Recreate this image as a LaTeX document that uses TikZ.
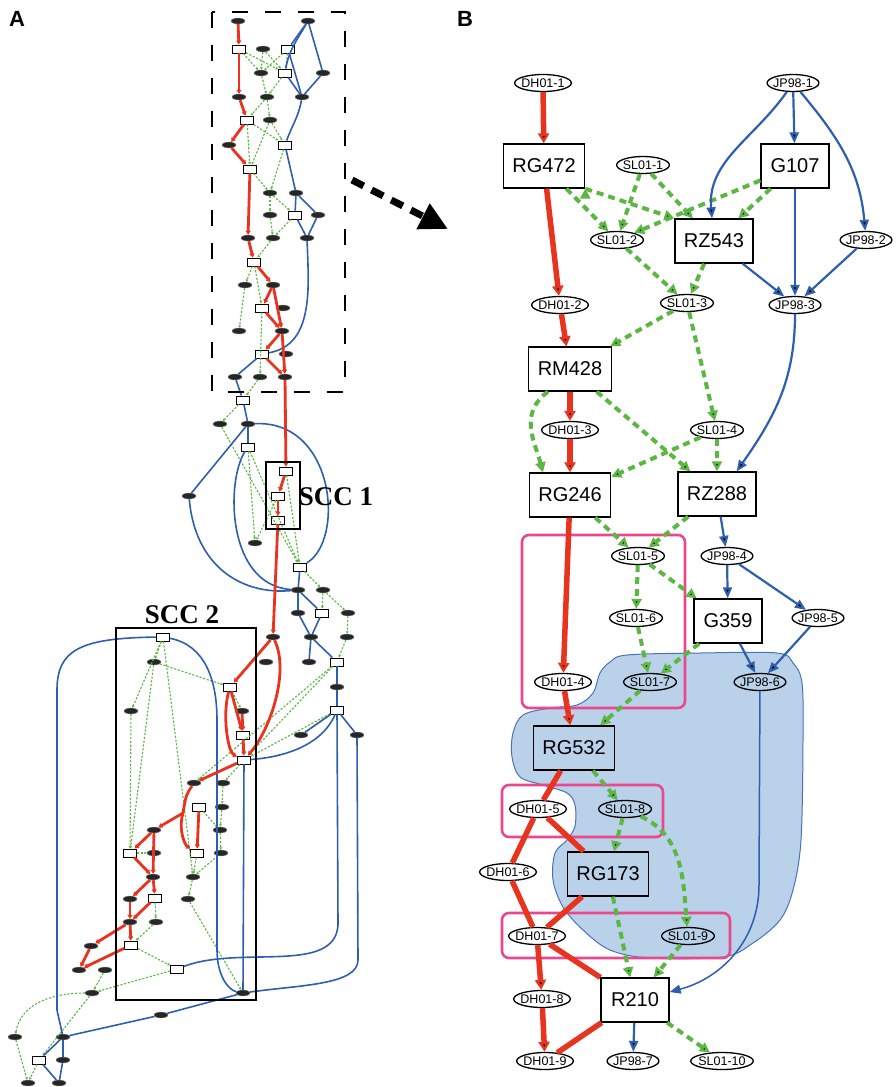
\documentclass[tikz,border=0pt]{standalone}
\usepackage{fontspec}
\setmainfont{Liberation Sans}
\newfontfamily\sccserif{Liberation Serif}
\usetikzlibrary{positioning,backgrounds,arrows.meta,shapes.geometric}

\definecolor{dhred}{HTML}{E8341F}
\definecolor{jpblue}{HTML}{2E5FAE}
\definecolor{slgreen}{HTML}{5BB642}
\definecolor{blobfill}{HTML}{BAD1EA}
\definecolor{blobline}{HTML}{4A72B8}
\definecolor{sccpink}{HTML}{E8488E}

\begin{document}
\begin{tikzpicture}[x=1pt,y=1pt,
    gene/.style={draw,line width=1.3pt,inner xsep=9pt,minimum width=68pt,minimum height=44pt,font=\fontsize{20}{20}\selectfont},
    snp/.style={ellipse,draw,line width=1.3pt,inner xsep=-1.5pt,inner ysep=0pt,minimum height=17pt,font=\fontsize{12.5}{12.5}\selectfont},
    dh/.style={draw=dhred,line width=5.5pt,-{Triangle[length=10pt,width=11pt]}},
    dhline/.style={draw=dhred,line width=5.5pt},
    jp/.style={draw=jpblue,line width=2.2pt,-{Triangle[length=11pt,width=9pt]}},
    sl/.style={draw=slgreen,line width=4pt,dash pattern=on 7pt off 5pt,-{Triangle[length=10pt,width=10pt]}},
    minisnp/.style={ellipse,fill=black!85,draw=black!45,minimum width=14pt,minimum height=6pt,inner sep=0pt},
    minigene/.style={draw,fill=white,line width=0.9pt,minimum width=13pt,minimum height=8pt,inner sep=0pt},
    mdh/.style={draw=dhred,line width=2.8pt,-{Triangle[length=4pt,width=5pt]}},
    mjp/.style={draw=jpblue,line width=1.6pt},
    msl/.style={draw=slgreen,line width=1.1pt,dash pattern=on 2.2pt off 1.6pt,-{Triangle[length=2.5pt,width=2.5pt]}},
    panel/.style={font=\fontsize{22}{22}\selectfont\bfseries},
    scclabel/.style={font=\sccserif\fontsize{27}{27}\selectfont\bfseries}]

    \useasboundingbox (0,0) rectangle (895,-1087);

    % ---------- panel A ----------
    \node[panel] (panelA) at (17,-19) {A};

    \foreach \n/\x/\y in {o1/238/21, o2/308/21, o3/263/49, o4/261/73, o5/323/73, o6/239/97, o7/267/97,
        o8/302/97, o9/270/120, o10/229/145, o11/270/193, o12/296/193, o13/270/215, o14/318/215,
        o15/248/238, o16/273/238, o17/307/238, o18/245/285, o19/273/285, o20/283/308, o21/239/331,
        o22/282/331, o23/286/354, o24/235/377, o25/260/377, o26/285/377, o27/220/424, o28/248/424,
        o29/189/496, o30/255/543, o31/298/590, o32/323/590, o33/298/613, o34/348/613, o35/273/637,
        o36/311/637, o37/347/637, o38/154/662, o39/266/662, o40/309/662, o41/337/687, o42/131/711,
        o43/242/711, o46/301/735, o47/357/735, o48/194/783, o49/223/783, o50/222/807, o51/154/830,
        o52/220/830, o53/154/853, o54/221/853, o55/153/877, o56/193/877, o57/130/899, o58/188/899,
        o59/130/922, o60/156/922, o61/91/946, o62/79/970, o63/105/970, o64/92/993, o65/243/993,
        o66/161/1015, o67/15/1037, o68/63/1037, o69/63/1060, o70/28/1083, o71/59/1083}
      \node[minisnp] (a\n) at (\x,-\y) {};

    \foreach \n/\x/\y in {b1/239/49, b2/288/49, b3/285/73, b4/247/120, b5/285/145, b6/250/169,
        b7/295/215, b8/254/262, b9/262/308, b10/262/354, b11/243/400, b12/248/447, b13/286/471,
        b14/278/496, b15/278/520, b16/300/567, b17/322/613, b18/163/637, b19/337/662, b20/230/687,
        b21/337/710, b23/243/735, b24/244/760, b25/199/807, b26/130/853, b27/197/853, b28/155/898,
        b29/131/945, b30/177/969, b31/39/1060}
      \node[minigene] (a\n) at (\x,-\y) {};

    \coordinate (ajunc) at (183,-813);
    \coordinate (arloop) at (57,-690);
    \coordinate (arloopend) at (57,-1010);
    \coordinate (amid1) at (217,-720);
    \coordinate (amid2) at (217,-950);
    \coordinate (aright1) at (338,-925);
    \coordinate (aright2) at (358,-960);

    \foreach \s/\t in {b1/o4, b1/b3, o3/o4, o3/b3, b2/o4, b2/b3, o4/o7, b3/o7, o7/b4, o7/o9, b4/b6,
        b4/b5, o9/b6, o9/b5, b6/o11, b5/o11, o11/o13, o11/b7, o13/o16, b7/o16, o16/b8, b8/o18,
        b8/b9, o18/o21, b9/o25, o25/b11, b11/o27, o27/b16, b12/o30, b12/b16, b13/b16, b14/o30,
        b16/o32, o32/b17, o32/o34, o34/o37, o37/b19, b18/o38, b18/o42, o38/b20, o42/b26, o38/b26,
        b18/o56, b19/b24, b19/o48, b21/b24, b21/o46, b24/o49, o49/o50, o50/o52, b25/o52, o52/o54,
        b27/o56, o54/o56, o56/o58, b26/o53, b28/o60, o60/b29, b29/b30, b30/o64, o63/o64,
        o64/b31, o67/o70, b31/o70, o58/o65, b20/o43}
      \draw[msl] (a\s) -- (a\t);
    \draw[msl] (ao64) to[out=180,in=80] (ao67);

    \foreach \s/\t in {o2/b2, o2/o5, b2/o8, b3/o8, o5/o8, b5/o12, o12/b7, o12/o14, b7/o17, o14/o17,
        b10/o24, o24/b11, b11/o28, o28/b12, o28/o29, b16/o31, o31/o33, o31/b17, o33/o36, b17/o36,
        o36/o40, o36/b19, b19/o41, o41/b21, b21/o46, b21/o47, b24/o65, o65/o66, o66/o68,
        o68/b31, o68/o69, b31/o71, o69/o71}
      \draw[mjp] (a\s) -- (a\t);
    \draw[mjp] (ao2) to[out=-120,in=80] (ab3);
    \draw[mjp] (ao8) to[out=-100,in=70] (ab5);
    \draw[mjp] (ao17) to[out=-88,in=10] (ab10);
    \draw[mjp] (ao28) .. controls (335,-420) and (345,-540) .. (ab16);
    \draw[mjp] (ab12) .. controls (226,-480) and (226,-585) .. (ao31);
    \draw[mjp] (ao29) .. controls (195,-565) and (240,-595) .. (ao31);
    \draw[mjp] (ab21) .. controls (322,-745) and (285,-757) .. (ab24);
    \draw[mjp] (ab18) .. controls (80,-638) and (57,-650) .. (arloop) -- (arloopend) -- (ao68);
    \draw[mjp] (ab18) .. controls (205,-645) and (217,-680) .. (amid1) -- (amid2)
        .. controls (217,-975) and (228,-990) .. (ao65);
    \draw[mjp] (ab21) -- (aright1) .. controls (335,-975) and (240,-945) .. (ab30);
    \draw[mjp] (ao47) -- (aright2) .. controls (358,-985) and (300,-985) .. (ao65);

    \foreach \s/\t in {o1/b1, b1/o6, o6/b4, b4/o10, o10/b6, b6/o15, o15/b8, b8/o19, o19/b9, o19/o22,
        b9/o22, o22/b10, o22/o26, b10/o26, o26/b13, b13/b14, b14/b15, b15/o35, o35/b20, b20/b23,
        o43/b23, b23/b24, b24/o48, b25/b27, o51/b26, o51/o55, b26/o55, o55/o57, o55/b28, o57/o59,
        b28/o59, o59/b29, o59/o61, o61/o62, b29/o62}
      \draw[mdh] (a\s) -- (a\t);
    \draw[mdh] (ao35) .. controls (290,-672) and (270,-730) .. (ab24);
    \draw[mdh] (ab20) .. controls (222,-715) and (228,-752) .. (ab24);
    \draw[draw=dhred,line width=2.8pt] (ao48) .. controls (186,-795) .. (ajunc);
    \draw[mdh] (ajunc) .. controls (178,-830) and (185,-845) .. (ab27);
    \draw[mdh] (ajunc) -- (ao51);

    \draw[line width=2.6pt,dash pattern=on 16pt off 17pt] (212,-12) rectangle (345,-392);
    \draw[line width=1.8pt] (266,-462) rectangle (300,-529);
    \draw[line width=2pt] (116,-628) rectangle (256,-1000);
    \node[scclabel] (sccone) at (336,-497) {SCC 1};
    \node[scclabel] (scctwo) at (182,-615) {SCC 2};

    \coordinate (zoomfrom) at (352,-180);
    \coordinate (zoomto) at (448,-229);
    \draw[line width=7pt,dash pattern=on 13pt off 9pt,-{Triangle[length=28pt,width=27pt]}] (zoomfrom) -- (zoomto);

    % ---------- panel B ----------
    \node[panel] (panelB) at (465,-19) {B};

    \node[snp] (dh1) at (543,-83) {DH01-1};
    \node[snp] (jp1) at (793,-83) {JP98-1};
    \node[gene] (rg472) at (544,-166) {RG472};
    \node[snp] (sl1) at (643,-165) {SL01-1};
    \node[gene] (g107) at (795,-166) {G107};
    \node[snp] (sl2) at (617,-240) {SL01-2};
    \node[gene] (rz543) at (714,-241) {RZ543};
    \node[snp] (jp2) at (866,-240) {JP98-2};
    \node[snp] (dh2) at (560,-305) {DH01-2};
    \node[snp] (sl3) at (687,-303) {SL01-3};
    \node[snp] (jp3) at (795,-305) {JP98-3};
    \node[gene] (rm428) at (570,-369) {RM428};
    \node[snp] (dh3) at (570,-430) {DH01-3};
    \node[snp] (sl4) at (717,-430) {SL01-4};
    \node[gene] (rg246) at (570,-495) {RG246};
    \node[gene] (rz288) at (717,-494) {RZ288};
    \node[snp] (sl5) at (638,-556) {SL01-5};
    \node[snp] (jp4) at (727,-556) {JP98-4};
    \node[snp] (sl6) at (636,-618) {SL01-6};
    \node[gene] (g359) at (728,-621) {G359};
    \node[snp] (jp5) at (818,-618) {JP98-5};
    \node[snp] (dh4) at (563,-682) {DH01-4};
    \node[snp] (sl7) at (650,-682) {SL01-7};
    \node[snp] (jp6) at (760,-682) {JP98-6};
    \node[gene] (rg532) at (574,-748) {RG532};
    \node[snp] (dh5) at (538,-809) {DH01-5};
    \node[snp] (sl8) at (625,-809) {SL01-8};
    \node[snp] (dh6) at (508,-872) {DH01-6};
    \node[gene] (rg173) at (608,-874) {RG173};
    \node[snp] (dh7) at (537,-936) {DH01-7};
    \node[snp] (sl9) at (688,-936) {SL01-9};
    \node[snp] (dh8) at (542,-999) {DH01-8};
    \node[gene] (r210) at (635,-1000) {R210};
    \node[snp] (dh9) at (545,-1061) {DH01-9};
    \node[snp] (jp7) at (633,-1061) {JP98-7};
    \node[snp] (sl10) at (722,-1061) {SL01-10};

    \coordinate (jpbend) at (759,-885);

    \begin{pgfonlayer}{background}
      \filldraw[fill=blobfill,draw=blobline,line width=1pt] plot[smooth cycle,tension=0.55] coordinates {
        (523,-715) (550,-708) (577,-705) (593,-693) (600,-673) (610,-662) (627,-655) (700,-653)
        (777,-653) (793,-663) (802,-683) (803,-740) (801,-840) (793,-890) (780,-920) (753,-943)
        (723,-957) (650,-958) (610,-950) (583,-930) (563,-907) (553,-880) (555,-853) (567,-840)
        (575,-826) (575,-805) (567,-793) (543,-785) (520,-777) (512,-757) (513,-733)};
      \draw[sccpink,line width=2.6pt,rounded corners=7pt] (522,-535) rectangle (685,-708);
      \draw[sccpink,line width=2.6pt,rounded corners=7pt] (502,-785) rectangle (663,-837);
      \draw[sccpink,line width=2.6pt,rounded corners=7pt] (502,-913) rectangle (730,-958);
    \end{pgfonlayer}

    \path[sl]
      (rg472) edge (sl2)
      (rg472.south east) edge (rz543.north west)
      (sl1) edge (sl2)
      (sl1) edge (rz543)
      (g107) edge (sl2)
      (g107) edge (rz543)
      (sl2) edge (sl3)
      (rz543) edge (sl3)
      (sl3) edge (rm428)
      (sl3) edge (sl4)
      (rm428) edge (rz288)
      (sl4) edge (rg246)
      (sl4) edge (rz288)
      (rg246) edge (sl5)
      (rz288) edge (sl5)
      (sl5) edge (sl6)
      (sl5) edge (g359)
      (sl6) edge (sl7)
      (g359) edge (sl7)
      (sl7) edge (rg532)
      (rg532) edge (sl8)
      (sl8) edge (rg173)
      (sl8) edge[out=-25,in=95] (sl9)
      (rg173) edge (r210)
      (sl9) edge (r210)
      (r210) edge (sl10);
    \draw[sl] ([xshift=-22pt]rm428.south) .. controls +(-30,-22) and +(-8,30) .. ([xshift=-27pt]rg246.north);

    \path[jp]
      (jp1) edge[out=-125,in=95] (rz543)
      (jp1) edge (g107)
      (jp1) edge[out=-50,in=95] (jp2)
      (g107) edge (jp3)
      (rz543) edge (jp3)
      (jp2) edge (jp3)
      (jp3) edge[out=-90,in=55] ([xshift=-20pt]rz288.north east)
      (rz288) edge (jp4)
      (jp4) edge (g359)
      (jp4) edge (jp5)
      (g359) edge (jp6)
      (jp5) edge (jp6)
      (r210) edge (jp7);
    \draw[jp,line width=1.5pt] (jp6) -- (jpbend) to[out=-90,in=15] ([yshift=8pt]r210.east);

    \path[dh]
      (dh1) edge (rg472)
      (rg472) edge (dh2)
      (dh2) edge (rm428)
      (rm428) edge (dh3)
      (dh3) edge (rg246)
      (rg246) edge (dh4)
      (dh4) edge (rg532)
      (dh7) edge (dh8)
      (dh8) edge (dh9);
    \path[dhline]
      (rg532) edge (dh5)
      (dh5) edge (dh6)
      (dh5) edge (rg173)
      (dh6) edge (dh7)
      (rg173) edge (dh7)
      (dh7) edge (r210)
      (r210) edge (dh9);
\end{tikzpicture}
\end{document}
